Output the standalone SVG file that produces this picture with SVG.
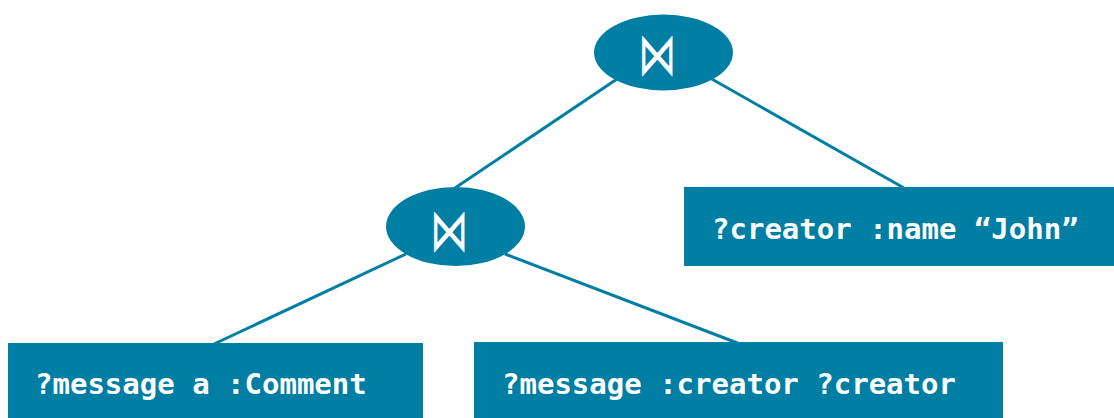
<svg xmlns="http://www.w3.org/2000/svg" width="1114" height="418" viewBox="0 0 1114 418">
  <style>
    .edge { stroke: #007EA3; stroke-width: 3; fill: none; }
    .op { fill: #007EA3; }
    .pattern { fill: #007EA3; }
    .opLabel { fill: #FFFFFF; font-family: "DejaVu Sans", sans-serif; font-weight: 200; font-size: 34px; text-anchor: middle; }
    .tpl { fill: #FFFFFF; font-family: "DejaVu Sans Mono", "Liberation Mono", monospace; font-weight: bold; font-size: 29px; }
  </style>
  <rect width="1114" height="418" fill="#FFFFFF"/>

  <!-- connectors -->
  <g id="connectors">
    <line class="edge" x1="617" y1="79" x2="455" y2="188"/>
    <line class="edge" x1="710" y1="78" x2="904" y2="188"/>
    <line class="edge" x1="406" y1="254" x2="214" y2="344"/>
    <line class="edge" x1="505" y1="254" x2="740" y2="344"/>
  </g>

  <!-- root join -->
  <g id="join-root">
    <ellipse class="op" cx="663.5" cy="52.5" rx="69.5" ry="38"/>
    <text class="opLabel" transform="translate(657 56.5) scale(1.12 1.75)" x="0" y="10.5">⋈</text>
  </g>

  <!-- inner join -->
  <g id="join-inner">
    <ellipse class="op" cx="455.5" cy="226.5" rx="69.5" ry="39.5"/>
    <text class="opLabel" transform="translate(449 232.5) scale(1.12 1.75)" x="0" y="10.5">⋈</text>
  </g>

  <!-- triple patterns -->
  <g id="tp-name">
    <rect class="pattern" x="684" y="187" width="430" height="79"/>
    <text class="tpl" x="712" y="239">?creator :name “John”</text>
  </g>

  <g id="tp-type">
    <rect class="pattern" x="8" y="343" width="415" height="75"/>
    <text class="tpl" x="35" y="394">?message a :Comment</text>
  </g>

  <g id="tp-creator">
    <rect class="pattern" x="474" y="342" width="529" height="76"/>
    <text class="tpl" x="502" y="394">?message :creator ?creator</text>
  </g>
</svg>
